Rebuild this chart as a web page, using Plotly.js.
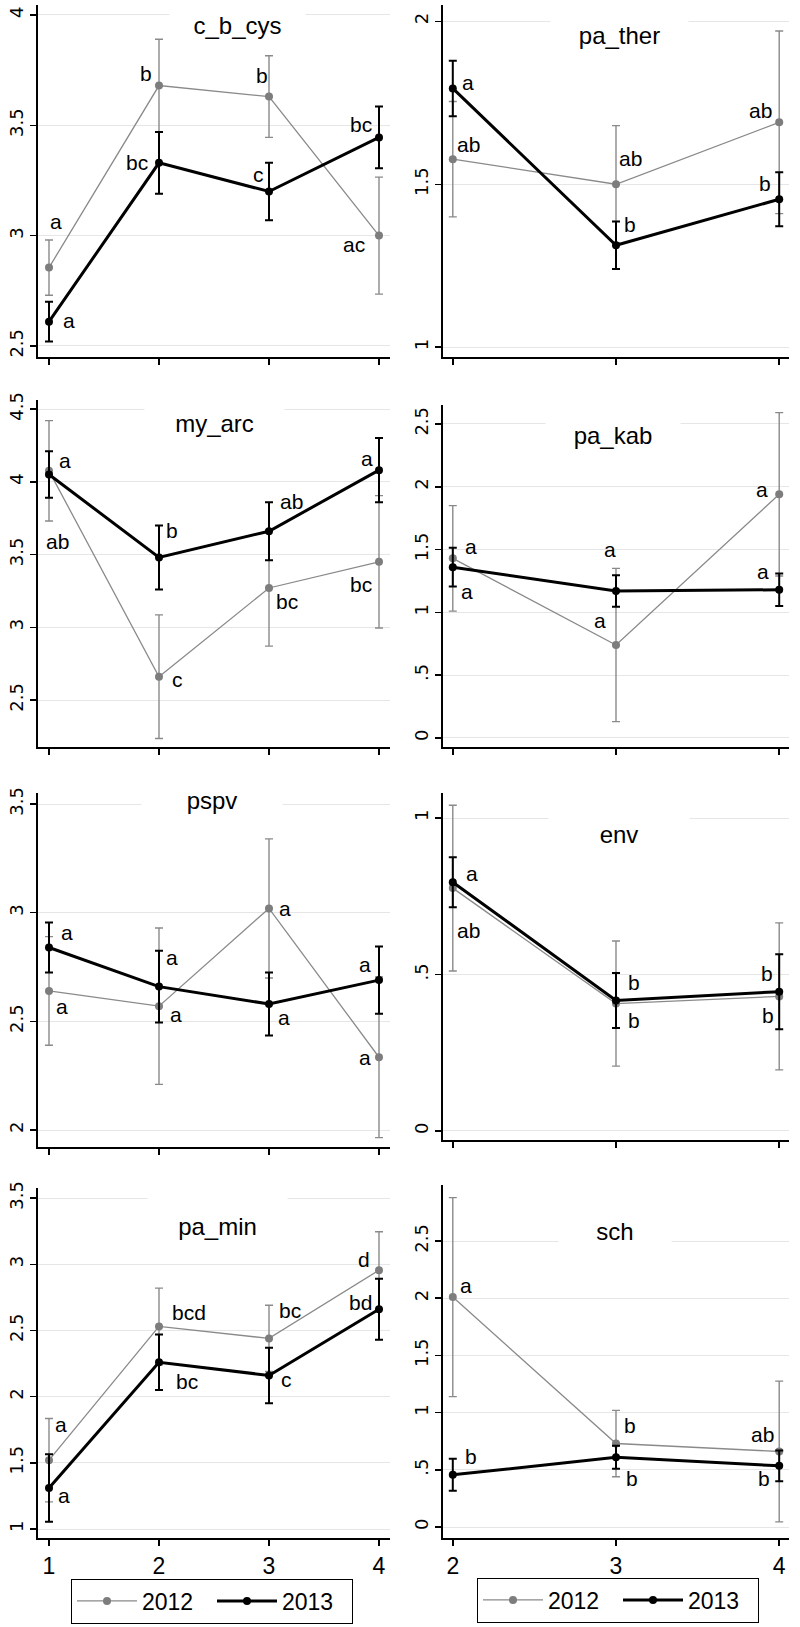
<!DOCTYPE html>
<html><head><meta charset="utf-8">
<script src="https://cdn.plot.ly/plotly-3.0.1.min.js"></script>
<style>html,body{margin:0;padding:0;background:#fff}#chart{width:800px;height:1627px}</style>
</head><body><div id="chart"></div>
<script>
// ---------- DATA ----------
const xLeft = [1, 2, 3, 4];
const xRight = [2, 3, 4];
const xTickTextLeft = ['1', '2', '3', '4'];
const xTickTextRight = ['2', '3', '4'];
const seriesNames = ['2012', '2013'];
const panelTitles = ['c_b_cys', 'pa_ther', 'my_arc', 'pa_kab', 'pspv', 'env', 'pa_min', 'sch'];

// c_b_cys
const cbcys2012 = [2.855, 3.68, 3.63, 3.00];
const cbcys2012Err = [0.125, 0.21, 0.185, 0.265];
const cbcys2012Lbl = ['a', 'b', 'b', 'ac'];
const cbcys2013 = [2.61, 3.33, 3.20, 3.445];
const cbcys2013Err = [0.09, 0.14, 0.13, 0.14];
const cbcys2013Lbl = ['a', 'bc', 'c', 'bc'];
// pa_ther
const pather2012 = [1.577, 1.50, 1.69];
const pather2012Err = [0.177, 0.18, 0.28];
const pather2012Lbl = ['ab', 'ab', 'ab'];
const pather2013 = [1.794, 1.313, 1.454];
const pather2013Err = [0.085, 0.073, 0.083];
const pather2013Lbl = ['a', 'b', 'b'];
// my_arc
const myarc2012 = [4.075, 2.66, 3.27, 3.45];
const myarc2012Err = [0.345, 0.425, 0.40, 0.455];
const myarc2012Lbl = ['ab', 'c', 'bc', 'bc'];
const myarc2013 = [4.05, 3.48, 3.66, 4.08];
const myarc2013Err = [0.16, 0.22, 0.20, 0.22];
const myarc2013Lbl = ['a', 'b', 'ab', 'a'];
// pa_kab
const pakab2012 = [1.43, 0.74, 1.94];
const pakab2012Err = [0.42, 0.61, 0.65];
const pakab2012Lbl = ['a', 'a', 'a'];
const pakab2013 = [1.36, 1.17, 1.18];
const pakab2013Err = [0.155, 0.125, 0.13];
const pakab2013Lbl = ['a', 'a', 'a'];
// pspv
const pspv2012 = [2.64, 2.57, 3.02, 2.335];
const pspv2012Err = [0.25, 0.36, 0.32, 0.37];
const pspv2012Lbl = ['a', 'a', 'a', 'a'];
const pspv2013 = [2.84, 2.66, 2.58, 2.69];
const pspv2013Err = [0.115, 0.165, 0.145, 0.155];
const pspv2013Lbl = ['a', 'a', 'a', 'a'];
// env
const env2012 = [0.776, 0.407, 0.43];
const env2012Err = [0.265, 0.20, 0.235];
const env2012Lbl = ['ab', 'b', 'b'];
const env2013 = [0.795, 0.417, 0.445];
const env2013Err = [0.08, 0.088, 0.12];
const env2013Lbl = ['a', 'b', 'b'];
// pa_min
const pamin2012 = [1.52, 2.53, 2.44, 2.955];
const pamin2012Err = [0.315, 0.29, 0.25, 0.29];
const pamin2012Lbl = ['a', 'bcd', 'bc', 'd'];
const pamin2013 = [1.31, 2.26, 2.16, 2.66];
const pamin2013Err = [0.255, 0.21, 0.21, 0.23];
const pamin2013Lbl = ['a', 'bc', 'c', 'bd'];
// sch
const sch2012 = [2.01, 0.73, 0.66];
const sch2012Err = [0.87, 0.29, 0.615];
const sch2012Lbl = ['a', 'b', 'ab'];
const sch2013 = [0.456, 0.61, 0.535];
const sch2013Err = [0.14, 0.10, 0.135];
const sch2013Lbl = ['b', 'b', 'b'];

// y tick values / labels
const yTicks1 = [2.5, 3, 3.5, 4];        const yTickText1 = ['2.5', '3', '3.5', '4'];
const yTicks2 = [1, 1.5, 2];             const yTickText2 = ['1', '1.5', '2'];
const yTicks3 = [2.5, 3, 3.5, 4, 4.5];   const yTickText3 = ['2.5', '3', '3.5', '4', '4.5'];
const yTicks4 = [0, 0.5, 1, 1.5, 2, 2.5]; const yTickText4 = ['0', '.5', '1', '1.5', '2', '2.5'];
const yTicks5 = [2, 2.5, 3, 3.5];        const yTickText5 = ['2', '2.5', '3', '3.5'];
const yTicks6 = [0, 0.5, 1];             const yTickText6 = ['0', '.5', '1'];
const yTicks7 = [1, 1.5, 2, 2.5, 3, 3.5]; const yTickText7 = ['1', '1.5', '2', '2.5', '3', '3.5'];
const yTicks8 = [0, 0.5, 1, 1.5, 2, 2.5]; const yTickText8 = ['0', '.5', '1', '1.5', '2', '2.5'];

// ---------- LAYOUT HELPERS (label offsets in px: [dx, dy-up]) ----------
const W = 800, H = 1627;
const px = v => v / W;
const py = v => 1 - v / H;

const panels = [
  { x: xLeft, xt: xTickTextLeft, xr: [0.9, 4.1], xd: [38, 390], yd: [5, 357], yr: [2.45, 4.045], yt: yTicks1, ytt: yTickText1,
    s: [[cbcys2012, cbcys2012Err, cbcys2012Lbl, [[7,46],[-13,12],[-7,21],[-25,-9]]],
        [cbcys2013, cbcys2013Err, cbcys2013Lbl, [[20,1],[-22,0],[-11,17],[-18,13]]]],
    t: { cx: 237, cy: 25, w: 133, h: 44 } },
  { x: xRight, xt: xTickTextRight, xr: [1.94, 4.06], xd: [443, 789], yd: [5, 357], yr: [0.97, 2.05], yt: yTicks2, ytt: yTickText2,
    s: [[pather2012, pather2012Err, pather2012Lbl, [[16,15],[14,26],[-19,12]]],
        [pather2013, pather2013Err, pather2013Lbl, [[15,6],[14,21],[-14,16]]]],
    t: { cx: 619, cy: 35, w: 135, h: 44 } },
  { x: xLeft, xt: xTickTextLeft, xr: [0.9, 4.1], xd: [38, 390], yd: [400, 747], yr: [2.177, 4.562], yt: yTicks3, ytt: yTickText3,
    s: [[myarc2012, myarc2012Err, myarc2012Lbl, [[8,-71],[18,-3],[18,-14],[-18,-23]]],
        [myarc2013, myarc2013Err, myarc2013Lbl, [[16,14],[13,27],[22,30],[-12,12]]]],
    t: { cx: 214, cy: 423, w: 137, h: 44 } },
  { x: xRight, xt: xTickTextRight, xr: [1.94, 4.06], xd: [443, 789], yd: [405, 747], yr: [-0.072, 2.651], yt: yTicks4, ytt: yTickText4,
    s: [[pakab2012, pakab2012Err, pakab2012Lbl, [[18,12],[-16,25],[-17,5]]],
        [pakab2013, pakab2013Err, pakab2013Lbl, [[14,-24],[-6,42],[-16,18]]]],
    t: { cx: 613, cy: 435, w: 132, h: 44 } },
  { x: xLeft, xt: xTickTextLeft, xr: [0.9, 4.1], xd: [38, 390], yd: [793, 1147], yr: [1.922, 3.551], yt: yTicks5, ytt: yTickText5,
    s: [[pspv2012, pspv2012Err, pspv2012Lbl, [[13,-16],[17,-8],[16,0],[-14,0]]],
        [pspv2013, pspv2013Err, pspv2013Lbl, [[18,15],[13,29],[15,-13],[-14,16]]]],
    t: { cx: 212, cy: 800, w: 138, h: 44 } },
  { x: xRight, xt: xTickTextRight, xr: [1.94, 4.06], xd: [443, 789], yd: [793, 1140], yr: [-0.029, 1.08], yt: yTicks6, ytt: yTickText6,
    s: [[env2012, env2012Err, env2012Lbl, [[16,-42],[18,-17],[-11,-19]]],
        [env2013, env2013Err, env2013Lbl, [[19,9],[18,18],[-12,18]]]],
    t: { cx: 619, cy: 834, w: 138, h: 44 } },
  { x: xLeft, xt: xTickTextLeft, xr: [0.9, 4.1], xd: [38, 390], yd: [1188, 1538], yr: [0.932, 3.576], yt: yTicks7, ytt: yTickText7,
    s: [[pamin2012, pamin2012Err, pamin2012Lbl, [[12,36],[30,14],[21,28],[-15,11]]],
        [pamin2013, pamin2013Err, pamin2013Lbl, [[15,-8],[28,-19],[17,-4],[-19,7]]]],
    t: { cx: 217, cy: 1226, w: 137, h: 60 }, legend: 'legend' },
  { x: xRight, xt: xTickTextRight, xr: [1.94, 4.06], xd: [443, 789], yd: [1185, 1538], yr: [-0.096, 2.99], yt: yTicks8, ytt: yTickText8,
    s: [[sch2012, sch2012Err, sch2012Lbl, [[13,12],[14,18],[-17,17]]],
        [sch2013, sch2013Err, sch2013Lbl, [[18,18],[16,-21],[-15,-13]]]],
    t: { cx: 615, cy: 1231, w: 110, h: 44 }, legend: 'legend2' }
];

const FONT = '"Liberation Sans", Arial, sans-serif';
const TICKFONT = '"DejaVu Sans", Verdana, sans-serif';
const styles = [
  { line: { color: '#8a8a8a', width: 1.3 }, marker: { color: '#7d7d7d', size: 8 }, err: { color: '#8a8a8a', thickness: 1.4, width: 4 } },
  { line: { color: '#000000', width: 3 }, marker: { color: '#000000', size: 8 }, err: { color: '#000000', thickness: 2, width: 4 } }
];

const data = [];
const annotations = [];
const legendBase = {
  orientation: 'h', yanchor: 'middle', xanchor: 'center',
  bordercolor: '#000', borderwidth: 1, bgcolor: '#fff',
  font: { size: 23, family: FONT, color: '#000' },
  itemwidth: 60, entrywidthmode: 'pixels', entrywidth: 65
};
const layout = {
  width: W, height: H,
  margin: { l: 0, r: 0, t: 0, b: 0 },
  paper_bgcolor: '#fff', plot_bgcolor: '#fff',
  font: { family: FONT, color: '#000' },
  showlegend: true,
  legend: Object.assign({}, legendBase, { x: px(212), y: py(1601) }),
  legend2: Object.assign({}, legendBase, { x: px(618), y: py(1600) }),
  annotations: annotations
};

panels.forEach((p, i) => {
  const n = i + 1;
  const xa = n === 1 ? 'x' : 'x' + n;
  const ya = n === 1 ? 'y' : 'y' + n;
  const bottom = n >= 7;
  layout['xaxis' + (n === 1 ? '' : n)] = {
    domain: [px(p.xd[0]), px(p.xd[1])], range: p.xr, anchor: ya,
    showgrid: false, zeroline: false, showline: true, linecolor: '#000', linewidth: 2,
    ticks: 'outside', ticklen: 6, tickwidth: 1.5, tickcolor: '#000',
    tickvals: p.x, ticktext: p.xt, showticklabels: bottom,
    tickfont: { size: 23, family: FONT, color: '#000' }, fixedrange: true
  };
  layout['yaxis' + (n === 1 ? '' : n)] = {
    domain: [py(p.yd[1]), py(p.yd[0])], range: p.yr, anchor: xa,
    showgrid: true, gridcolor: '#e6e6e6', gridwidth: 1, zeroline: false,
    showline: true, linecolor: '#000', linewidth: 2,
    ticks: 'outside', ticklen: 6, tickwidth: 1.5, tickcolor: '#000',
    tickvals: p.yt, ticktext: p.ytt, tickangle: -90,
    tickfont: { size: 18, family: TICKFONT, color: '#000' }, fixedrange: true
  };
  p.s.forEach((s, k) => {
    const st = styles[k];
    data.push({
      type: 'scatter', mode: 'lines+markers', name: seriesNames[k],
      x: p.x, y: s[0], xaxis: xa, yaxis: ya,
      line: st.line, marker: st.marker,
      error_y: { type: 'data', array: s[1], visible: true, color: st.err.color, thickness: st.err.thickness, width: st.err.width },
      showlegend: !!p.legend, legend: p.legend || 'legend', hoverinfo: 'skip'
    });
    s[2].forEach((lbl, j) => {
      annotations.push({
        xref: xa, yref: ya, x: p.x[j], y: s[0][j], text: lbl, showarrow: false,
        xanchor: 'center', yanchor: 'middle', xshift: s[3][j][0], yshift: s[3][j][1],
        font: { size: 21, family: FONT, color: '#000' }
      });
    });
  });
  annotations.push({
    xref: 'paper', yref: 'paper', x: px(p.t.cx), y: py(p.t.cy), xanchor: 'center', yanchor: 'middle',
    text: panelTitles[i], showarrow: false, bgcolor: '#fff', width: p.t.w, height: p.t.h,
    font: { size: 24, family: FONT, color: '#000' }
  });
});

Plotly.newPlot('chart', data, layout, { staticPlot: true, displayModeBar: false });
</script>
</body></html>
